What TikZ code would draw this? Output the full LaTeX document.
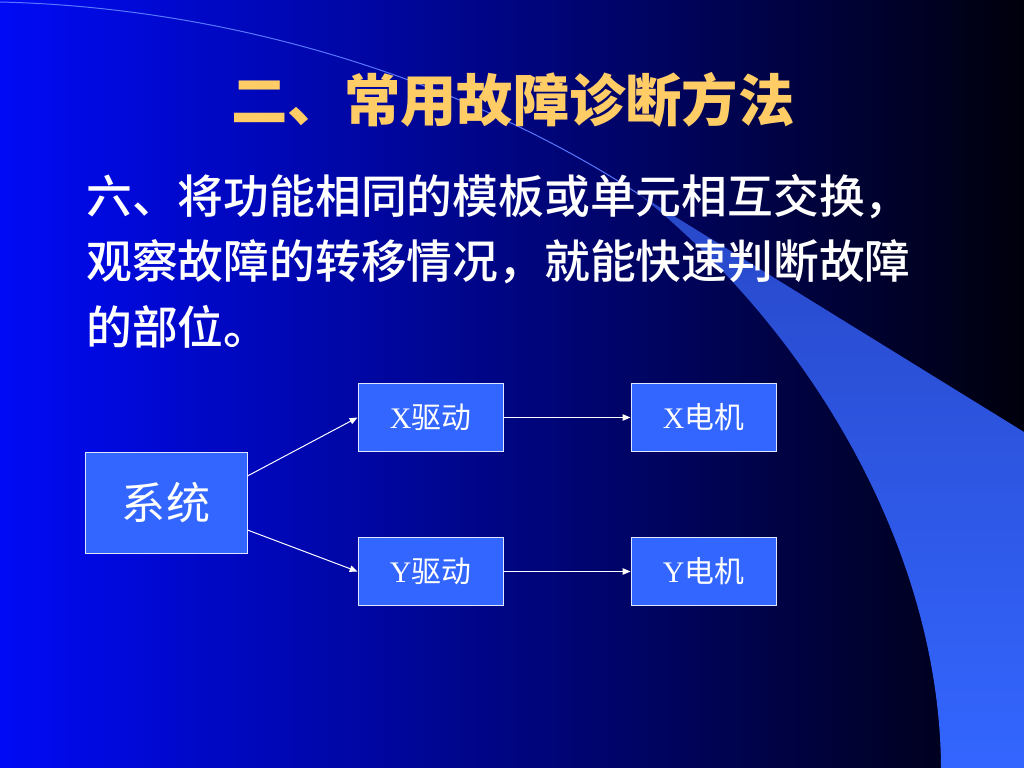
\documentclass[tikz,border=0pt]{standalone}
\usepackage{fontspec}
\setmainfont{Liberation Serif}
\newfontfamily\cjk{Noto Sans CJK SC}
\newfontfamily\cjkmed{Noto Sans CJK SC Medium}
\usetikzlibrary{arrows.meta}
\definecolor{slideblue}{RGB}{0,10,245}
\definecolor{slidenavy}{RGB}{0,0,160}
\definecolor{slidedark}{RGB}{0,0,12}
\definecolor{boxblue}{RGB}{51,102,255}
\definecolor{bandtop}{RGB}{40,72,200}
\definecolor{titlegold}{RGB}{255,204,102}
\definecolor{swooshline}{RGB}{90,120,255}
\tikzset{
  titletext/.style={text=titlegold, inner sep=0pt, font=\cjk\bfseries\fontsize{39.6}{44}\selectfont},
  bodytext/.style={text=white, inner sep=0pt, anchor=west, font=\cjkmed\fontsize{32.2}{36}\selectfont},
  boxnode/.style={draw=white!85!boxblue, fill=boxblue, line width=0.7pt, text=white, inner sep=0pt,
    minimum width=101.95pt, minimum height=48.5pt, font=\fontsize{21}{24}\selectfont},
  sysbox/.style={boxnode, minimum width=113.9pt, minimum height=71.7pt, font=\cjk\fontsize{31}{34}\selectfont},
  link/.style={draw=white, line width=0.7pt, -{Triangle[length=5.5pt,width=4.5pt]}}
}
\begin{document}
\begin{tikzpicture}[x=0.703125pt, y=-0.703125pt]
            \useasboundingbox (0,0) rectangle (1024,768);
            \shade[left color=slideblue, middle color=slidenavy, right color=slidedark] (0,0) rectangle (1024,768);
            \shade[top color=bandtop, bottom color=boxblue] (640,195) -- (1024,432) -- (1024,768) -- (941,768)
                .. controls (940,560) and (820,340) .. (640,195) -- cycle;
            \draw[swooshline, line width=0.7pt] (0,2) .. controls (250,8) and (480,90) .. (640,195);
            \node (title) at (513,100) [titletext] {二、常用故障诊断方法};
            \node (line1) at (86,197) [bodytext] {六、将功能相同的模板或单元相互交换，};
            \node (line2) at (86,262) [bodytext] {观察故障的转移情况，就能快速判断故障};
            \node (line3) at (86,327) [bodytext] {的部位。};
            \node (sys) at (166,503) [sysbox] {系统};
            \node (xdrv) at (430.5,417.5) [boxnode] {X\cjk 驱动};
            \node (xmot) at (703.5,417.5) [boxnode] {X\cjk 电机};
            \node (ydrv) at (430.5,571.5) [boxnode] {Y\cjk 驱动};
            \node (ymot) at (703.5,571.5) [boxnode] {Y\cjk 电机};
            \draw[link] ([yshift=19pt]sys.east) -- (xdrv.west);
            \draw[link] ([yshift=-19pt]sys.east) -- (ydrv.west);
            \draw[link] (xdrv) -- (xmot);
            \draw[link] (ydrv) -- (ymot);
\end{tikzpicture}
\end{document}
